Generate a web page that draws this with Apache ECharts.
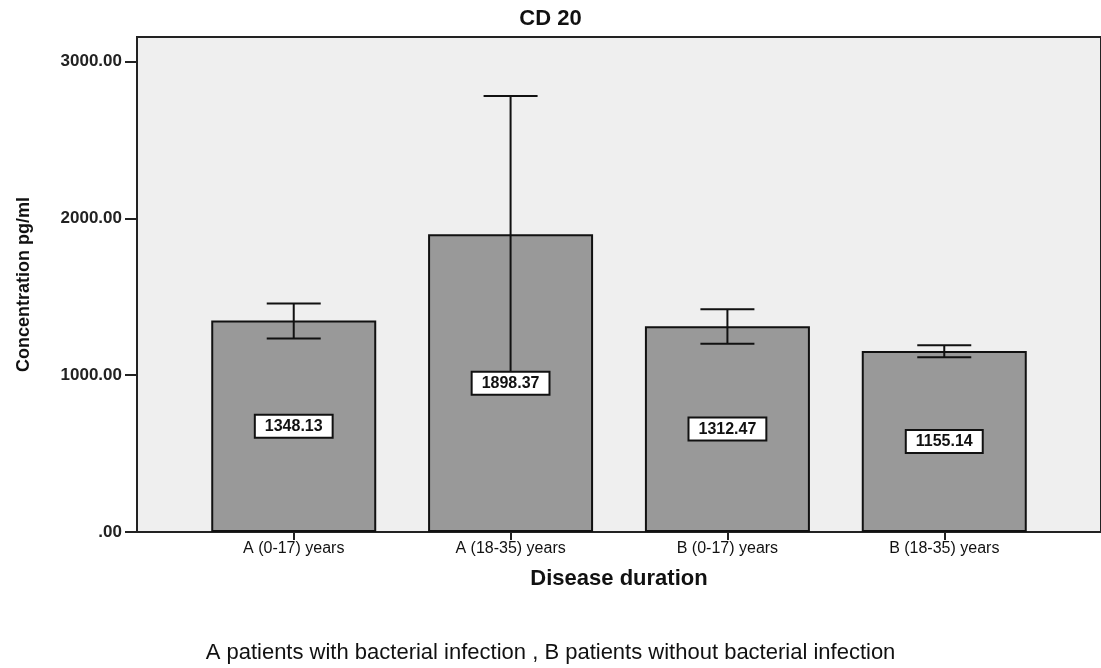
<!DOCTYPE html>
<html>
<head>
<meta charset="utf-8">
<title>CD 20</title>
<script src="https://cdn.jsdelivr.net/npm/echarts@6/dist/echarts.min.js"></script>
<style>
  html, body { margin: 0; padding: 0; background: #ffffff; }
  #chart { width: 1101px; height: 668px; }
</style>
</head>
<body>
<div id="chart"></div>
<script>
// Disease-duration groups and mean CD20 concentration (pg/ml)
const categories = ['A (0-17) years', 'A (18-35) years', 'B (0-17) years', 'B (18-35) years'];
const means = [1348.13, 1898.37, 1312.47, 1155.14];
// Error bar ends for each group
const errLow = [1234, 1015, 1200, 1115];
const errHigh = [1458, 2781, 1421, 1191];
// Y-axis tick values
const yTicks = [0, 1000, 2000, 3000];
const catIndex = categories.map((c, i) => i);

const FONT = '"Liberation Sans", Arial, sans-serif';

const chart = echarts.init(document.getElementById('chart'), null, { renderer: 'canvas' });

const option = {
  backgroundColor: '#ffffff',
  animation: false,
  title: [
    {
      text: 'CD 20',
      left: 'center',
      top: 3,
      textStyle: { fontFamily: FONT, fontSize: 22, fontWeight: 'bold', color: '#111' }
    },
    {
      text: 'A patients with bacterial infection , B patients without bacterial infection',
      left: 'center',
      top: 637,
      textStyle: { fontFamily: FONT, fontSize: 22, fontWeight: 'normal', color: '#111' }
    }
  ],
  grid: {
    left: 137,
    right: -8,
    top: 37,
    bottom: 136,
    show: true,
    backgroundColor: '#efefef',
    borderColor: '#222',
    borderWidth: 2
  },
  xAxis: {
    type: 'value',
    min: -0.7228,
    max: 3.7228,
    name: 'Disease duration',
    nameLocation: 'middle',
    nameGap: 36,
    nameTextStyle: { fontFamily: FONT, fontSize: 22, fontWeight: 'bold', color: '#111' },
    axisLine: { show: true, onZero: false, lineStyle: { color: '#222', width: 2 } },
    axisTick: { show: true, customValues: catIndex, length: 8, lineStyle: { color: '#222', width: 2 } },
    axisLabel: {
      customValues: catIndex,
      formatter: v => categories[Math.round(v)],
      fontFamily: FONT,
      fontSize: 16,
      color: '#111',
      margin: 9
    },
    splitLine: { show: false }
  },
  yAxis: {
    type: 'value',
    min: 0,
    max: 3157,
    name: 'Concentration pg/ml',
    nameLocation: 'middle',
    nameGap: 104,
    nameTextStyle: { fontFamily: FONT, fontSize: 18, fontWeight: 'bold', color: '#111' },
    axisLine: { show: true, onZero: false, lineStyle: { color: '#222', width: 2 } },
    axisTick: { show: true, customValues: yTicks, length: 12, lineStyle: { color: '#222', width: 2 } },
    axisLabel: {
      customValues: yTicks,
      formatter: v => (v === 0 ? '.00' : v.toFixed(2)),
      fontFamily: FONT,
      fontSize: 17,
      fontWeight: 'bold',
      color: '#222',
      margin: 15
    },
    splitLine: { show: false }
  },
  series: [
    {
      type: 'bar',
      z: 2,
      barWidth: 165,
      data: means.map((v, i) => [i, v]),
      itemStyle: { color: '#999999', borderColor: '#111', borderWidth: 2 }
    },
    {
      // Error bars with the value box drawn on top
      type: 'custom',
      z: 3,
      data: means.map((v, i) => [i, v, errLow[i], errHigh[i]]),
      renderItem: (params, api) => {
        const i = api.value(0);
        const mean = api.value(1);
        const lo = api.coord([i, api.value(2)]);
        const hi = api.coord([i, api.value(3)]);
        const base = api.coord([i, 0]);
        const top = api.coord([i, mean]);
        const half = 27;
        const line = { stroke: '#111', lineWidth: 2 };
        return {
          type: 'group',
          children: [
            { type: 'line', shape: { x1: lo[0], y1: lo[1], x2: hi[0], y2: hi[1] }, style: line },
            { type: 'line', shape: { x1: hi[0] - half, y1: hi[1], x2: hi[0] + half, y2: hi[1] }, style: line },
            { type: 'line', shape: { x1: lo[0] - half, y1: lo[1], x2: lo[0] + half, y2: lo[1] }, style: line },
            {
              type: 'text',
              z2: 10,
              style: {
                x: top[0],
                y: (top[1] + base[1]) / 2,
                text: mean.toFixed(2),
                align: 'center',
                verticalAlign: 'middle',
                font: 'bold 16px ' + FONT,
                fill: '#111',
                backgroundColor: '#ffffff',
                borderColor: '#111',
                borderWidth: 2,
                padding: [3, 9, 2, 9]
              }
            }
          ]
        };
      }
    }
  ]
};

chart.setOption(option);
</script>
</body>
</html>
